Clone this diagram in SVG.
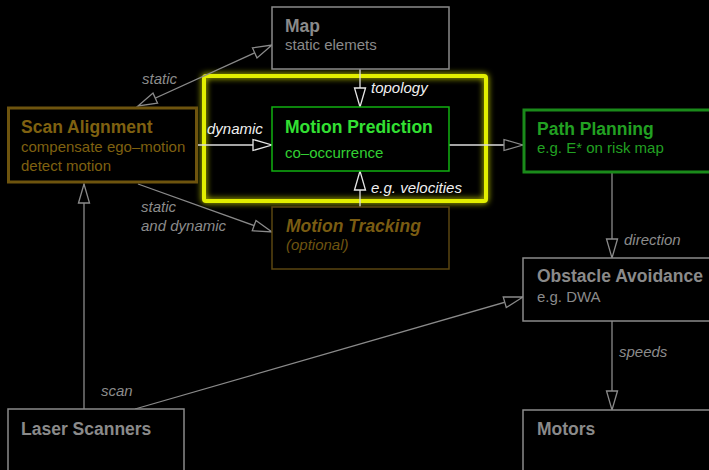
<svg xmlns="http://www.w3.org/2000/svg" width="709" height="470" viewBox="0 0 709 470">
<defs>
<style>
text{font-family:"Liberation Sans",Arial,sans-serif}
.t{font-size:17.5px;font-weight:bold}
.s{font-size:15px}
.lbl{font-size:15px;font-style:italic;fill:#8c8c8c}
.wl{font-size:15px;font-style:italic;fill:#f0f0f0}
.gray{fill:#8a8a8a}
.box{fill:#000;stroke:#8a8a8a;stroke-width:1.5}
.ln{fill:none;stroke:#8a8a8a;stroke-width:1.3}
.wln{fill:none;stroke:#dcdcdc;stroke-width:1.3}
</style>
<marker id="ag" markerUnits="userSpaceOnUse" markerWidth="22" markerHeight="14" refX="20" refY="7" orient="auto-start-reverse"><path d="M1,1.5 L20,7 L1,12.5 Z" fill="#000" stroke="#8a8a8a" stroke-width="1.3"/></marker>
<marker id="aw" markerUnits="userSpaceOnUse" markerWidth="22" markerHeight="14" refX="20" refY="7" orient="auto-start-reverse"><path d="M1,1.5 L20,7 L1,12.5 Z" fill="#000" stroke="#e6e6e6" stroke-width="1.3"/></marker>
<filter id="glow" x="-10%" y="-15%" width="120%" height="130%"><feGaussianBlur stdDeviation="3" result="b"/><feMerge><feMergeNode in="b"/><feMergeNode in="SourceGraphic"/></feMerge></filter>
</defs>
<rect width="709" height="470" fill="#000"/>

<g id="group-prediction">
<rect x="204" y="76" width="282" height="125" fill="none" stroke="#e2ee00" stroke-width="4" rx="2" filter="url(#glow)"/>
</g>

<g id="connectors">
<line class="ln" x1="138" y1="106" x2="272" y2="45" marker-start="url(#ag)" marker-end="url(#ag)"/>
<line class="wln" x1="197" y1="145" x2="272" y2="145" marker-end="url(#aw)"/>
<line class="ln" x1="138" y1="184" x2="272" y2="232" marker-end="url(#ag)"/>
<line class="wln" x1="360" y1="69" x2="360" y2="107" marker-end="url(#aw)"/>
<line class="wln" x1="360" y1="207" x2="360" y2="171" marker-end="url(#aw)"/>
<line class="wln" x1="449" y1="145" x2="523" y2="145" marker-end="url(#ag)"/>
<line class="ln" x1="612" y1="173" x2="612" y2="258" marker-end="url(#ag)"/>
<line class="ln" x1="612" y1="321" x2="612" y2="410" marker-end="url(#ag)"/>
<line class="ln" x1="84" y1="409" x2="84" y2="184" marker-end="url(#ag)"/>
<line class="ln" x1="135" y1="409" x2="523" y2="297" marker-end="url(#ag)"/>
<text class="lbl" x="142" y="84">static</text>
<text class="wl" x="207" y="134">dynamic</text>
<text class="lbl" x="141" y="212">static</text>
<text class="lbl" x="141" y="231">and dynamic</text>
<text class="wl" x="371" y="93">topology</text>
<text class="wl" x="371" y="193">e.g. velocities</text>
<text class="lbl" x="624" y="245">direction</text>
<text class="lbl" x="619" y="357">speeds</text>
<text class="lbl" x="101" y="396">scan</text>
</g>

<g id="map">
<rect class="box" x="272" y="7" width="177" height="62"/>
<text class="t gray" x="285" y="32">Map</text>
<text class="s gray" x="285" y="50">static elemets</text>
</g>

<g id="scan-alignment">
<rect x="8.5" y="108" width="188" height="74" fill="#000" stroke="#6e540e" stroke-width="3"/>
<text class="t" x="21" y="133" fill="#7f6110">Scan Alignment</text>
<text class="s" x="21" y="152" fill="#7f6110">compensate ego–motion</text>
<text class="s" x="21" y="171" fill="#7f6110">detect motion</text>
</g>

<g id="motion-prediction">
<rect x="272" y="107" width="177" height="64" fill="#000" stroke="#10b010" stroke-width="1.5"/>
<text class="t" x="285" y="133" fill="#33e033">Motion Prediction</text>
<text class="s" x="285" y="158" fill="#33d033">co–occurrence</text>
</g>

<g id="motion-tracking">
<rect x="272" y="207" width="177" height="62" fill="#000" stroke="#5a4510" stroke-width="1.5"/>
<text class="t" x="286" y="232" fill="#7a5c12" font-style="italic">Motion Tracking</text>
<text class="s" x="286" y="250" fill="#6e5410" font-style="italic">(optional)</text>
</g>

<g id="path-planning">
<rect x="524" y="110" width="190" height="62" fill="#000" stroke="#1a8a1a" stroke-width="3"/>
<text class="t" x="537" y="135" fill="#22a022">Path Planning</text>
<text class="s" x="537" y="153" fill="#22a022">e.g. E* on risk map</text>
</g>

<g id="obstacle-avoidance">
<rect class="box" x="523" y="258" width="200" height="63"/>
<text class="t gray" x="537" y="282">Obstacle Avoidance</text>
<text class="s gray" x="537" y="302">e.g. DWA</text>
</g>

<g id="motors">
<rect class="box" x="523" y="410" width="200" height="80"/>
<text class="t gray" x="537" y="435">Motors</text>
</g>

<g id="laser-scanners">
<rect class="box" x="8" y="409" width="176" height="80"/>
<text class="t gray" x="21" y="435">Laser Scanners</text>
</g>
</svg>
